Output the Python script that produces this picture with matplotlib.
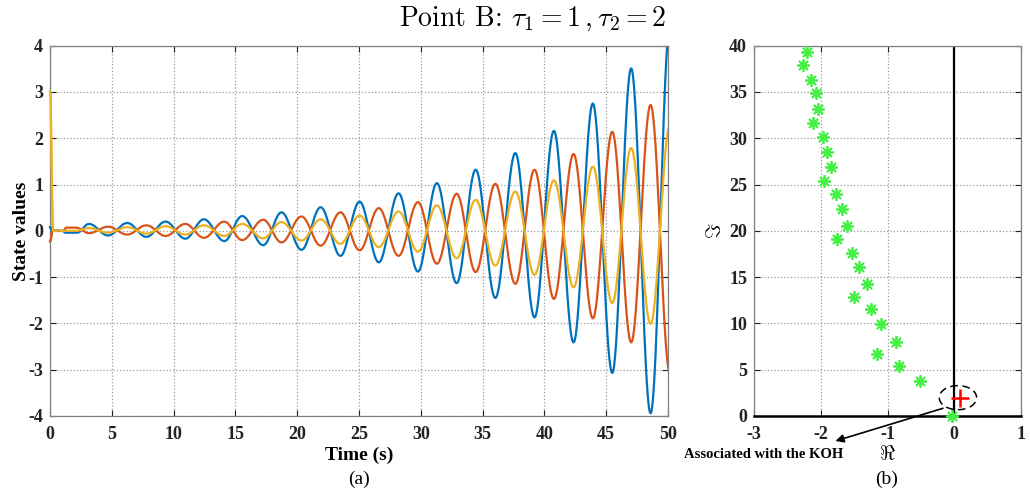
import numpy as np
import matplotlib
matplotlib.use("Agg")
import matplotlib.pyplot as plt
from matplotlib.patches import Ellipse

plt.rcParams['mathtext.fontset'] = 'cm'
plt.rcParams['axes.unicode_minus'] = False
plt.rcParams['font.family'] = ['Liberation Serif', 'DejaVu Serif']

# ---------------- data (panel a): turning points ----------------
blue_t = [0.0, 0.15, 1.0, 1.25, 2.2, 3.15, 4.7, 6.25, 7.8, 9.35, 10.95, 12.45, 14.1, 15.55,
          17.25, 18.73, 20.35, 21.9, 23.5, 25.05, 26.6, 28.2, 29.77, 31.3, 32.9, 34.44,
          36.03, 37.65, 39.2, 40.77, 42.36, 43.92, 45.49, 47.02, 48.59, 50.17]
blue_v = [0.08, 0.0, 0.0, -0.04, -0.04, 0.15, -0.10, 0.17, -0.13, 0.20, -0.17, 0.25, -0.22, 0.32,
          -0.31, 0.40, -0.41, 0.51, -0.54, 0.63, -0.68, 0.81, -0.88, 1.03, -1.13, 1.32,
          -1.45, 1.68, -1.87, 2.16, -2.41, 2.75, -3.07, 3.51, -3.94, 4.45]

orange_t = [0.0, 0.2, 1.1, 1.3, 2.1, 3.15, 4.7, 6.25, 7.8, 9.35, 10.95, 12.45, 14.1, 15.55,
            17.25, 18.73, 20.35, 21.9, 23.5, 25.05, 26.6, 28.2, 29.77, 31.3, 32.9, 34.44,
            36.03, 37.65, 39.2, 40.77, 42.36, 43.92, 45.49, 47.02, 48.59, 50.17]
orange_v = [-0.23, 0.0, 0.0, 0.07, 0.07, -0.05, 0.09, -0.08, 0.12, -0.11, 0.15, -0.15, 0.20, -0.20,
            0.24, -0.25, 0.31, -0.32, 0.40, -0.42, 0.49, -0.54, 0.62, -0.71, 0.80, -0.89,
            1.015, -1.145, 1.32, -1.47, 1.66, -1.89, 2.14, -2.41, 2.72, -3.10]

yellow_t = [0.0, 0.25, 1.2, 2.1, 3.15, 4.7, 6.25, 7.8, 9.35, 10.95, 12.45, 14.1, 15.55,
            17.25, 18.73, 20.35, 21.9, 23.5, 25.05, 26.6, 28.2, 29.77, 31.3, 32.9, 34.44,
            36.03, 37.65, 39.2, 40.77, 42.36, 43.92, 45.49, 47.02, 48.59, 50.17]
yellow_v = [3.0, 0.0, 0.0, 0.0, 0.06, -0.04, 0.08, -0.06, 0.10, -0.08, 0.12, -0.11, 0.15,
            -0.16, 0.19, -0.21, 0.25, -0.28, 0.33, -0.35, 0.42, -0.45, 0.55, -0.59, 0.67,
            -0.75, 0.85, -0.95, 1.09, -1.22, 1.39, -1.56, 1.79, -2.01, 2.30]

# ---------------- data (panel b): roots ----------------
root_re = [-2.20, -2.26, -2.14, -2.07, -2.04, -2.11, -1.97, -1.90, -1.84, -1.95, -1.77, -1.68,
           -1.61, -1.75, -1.53, -1.43, -1.31, -1.50, -1.24, -1.09, -0.87, -1.16, -0.83, -0.51, -0.03]
root_im = [39.34, 37.94, 36.32, 34.85, 33.15, 31.68, 30.16, 28.47, 26.86, 25.38, 23.94, 22.32,
           20.55, 19.15, 17.64, 16.12, 14.29, 12.89, 11.52, 9.94, 8.03, 6.70, 5.44, 3.82, 0.0]
koh_re = [0.09]
koh_im = [1.98]

C_BLUE, C_ORANGE, C_YELLOW = '#0072BD', '#D95319', '#EDB120'


def smooth(tk, vk, n=40):
    ts, vs = [], []
    for i in range(len(tk) - 1):
        s = np.linspace(0, 1, n, endpoint=False)
        ts.append(tk[i] + (tk[i + 1] - tk[i]) * s)
        vs.append(vk[i] + (vk[i + 1] - vk[i]) * (1 - np.cos(np.pi * s)) / 2)
    ts.append([tk[-1]]); vs.append([vk[-1]])
    return np.concatenate(ts), np.concatenate(vs)


W, H = 1030, 490
fig = plt.figure(figsize=(W / 100, H / 100), dpi=100)

def fx(px): return px / W
def fy(py): return 1 - py / H

axL = fig.add_axes([fx(50), fy(416), fx(668) - fx(50), fy(45.7) - fy(416)])
axR = fig.add_axes([fx(754), fy(416), fx(1021) - fx(754), fy(45.7) - fy(416)])

for ax in (axL, axR):
    ax.grid(True, linestyle=':', color='#9a9a9a', linewidth=0.9)
    ax.set_axisbelow(True)
    ax.tick_params(direction='in', top=True, right=True, length=4, width=0.8,
                   colors='#222222', labelsize=13)
    ax.tick_params(axis='x', pad=7)
    ax.tick_params(axis='y', pad=5)
    for sp in ax.spines.values():
        sp.set_color('#808080')
        sp.set_linewidth(0.9)

# panel a
for tk, vk, c in ((blue_t, blue_v, C_BLUE), (orange_t, orange_v, C_ORANGE), (yellow_t, yellow_v, C_YELLOW)):
    t, v = smooth(tk, vk)
    axL.plot(t, v, color=c, linewidth=1.6)
    # initial transient drawn unclipped so that it stays visible on the left edge
    m = t <= 0.6
    axL.plot(t[m], v[m], color=c, linewidth=1.6, clip_on=False, zorder=3)
axL.set_xlim(0, 50)
axL.set_ylim(-4, 4)
axL.set_xticks(np.arange(0, 51, 5))
axL.set_yticks(np.arange(-4, 5, 1))
for lab in axL.get_xticklabels() + axL.get_yticklabels():
    lab.set_fontweight('bold')
axL.set_xlabel('Time (s)', fontsize=14, fontweight='bold', labelpad=3)
axL.set_ylabel('State values', fontsize=14, fontweight='bold', labelpad=-1)

# panel b
axR.set_xlim(-3, 1)
axR.set_ylim(0, 40)
axR.set_xticks(np.arange(-3, 2, 1))
axR.set_yticks(np.arange(0, 41, 5))
for lab in axR.get_xticklabels() + axR.get_yticklabels():
    lab.set_fontweight('bold')
axR.spines['bottom'].set_color('black')
axR.spines['bottom'].set_linewidth(1.8)
axR.axvline(0, color='black', linewidth=1.6, zorder=2)
axR.plot(root_re, root_im, linestyle='none', marker=(8, 2, 0), markersize=9,
         markeredgewidth=1.3, color='#45f045', clip_on=False, zorder=3)
axR.plot(koh_re, koh_im, linestyle='none', marker='+', markersize=13,
         markeredgewidth=1.8, color='red', zorder=4)
axR.add_patch(Ellipse((0.055, 1.98), 0.56, 2.6, fill=False, edgecolor='black',
                      linestyle=(0, (5, 3)), linewidth=1.1, zorder=4))
axR.annotate('', xy=(-1.78, -2.7), xytext=(-0.17, 0.83), annotation_clip=False,
             arrowprops=dict(arrowstyle='-|>', color='black', linewidth=1.2,
                             mutation_scale=12, shrinkA=0, shrinkB=0))
fig.text(fx(843), fy(454), 'Associated with the KOH', ha='right', va='center',
         fontsize=10.5, fontweight='bold', family='Liberation Serif')
axR.set_xlabel(r'$\Re$', fontsize=15, labelpad=2)
axR.set_ylabel(r'$\Im$', fontsize=15, labelpad=2)

fig.text(fx(359), fy(479), '(a)', ha='center', va='center', fontsize=14)
fig.text(fx(887), fy(479), '(b)', ha='center', va='center', fontsize=14)

fig.text(fx(533), fy(19), r'Point B: $\tau_1 = 1\,,\tau_2 = 2$', family='cmr10',
         ha='center', va='center', fontsize=20)

fig.savefig('out.png', dpi=100)
